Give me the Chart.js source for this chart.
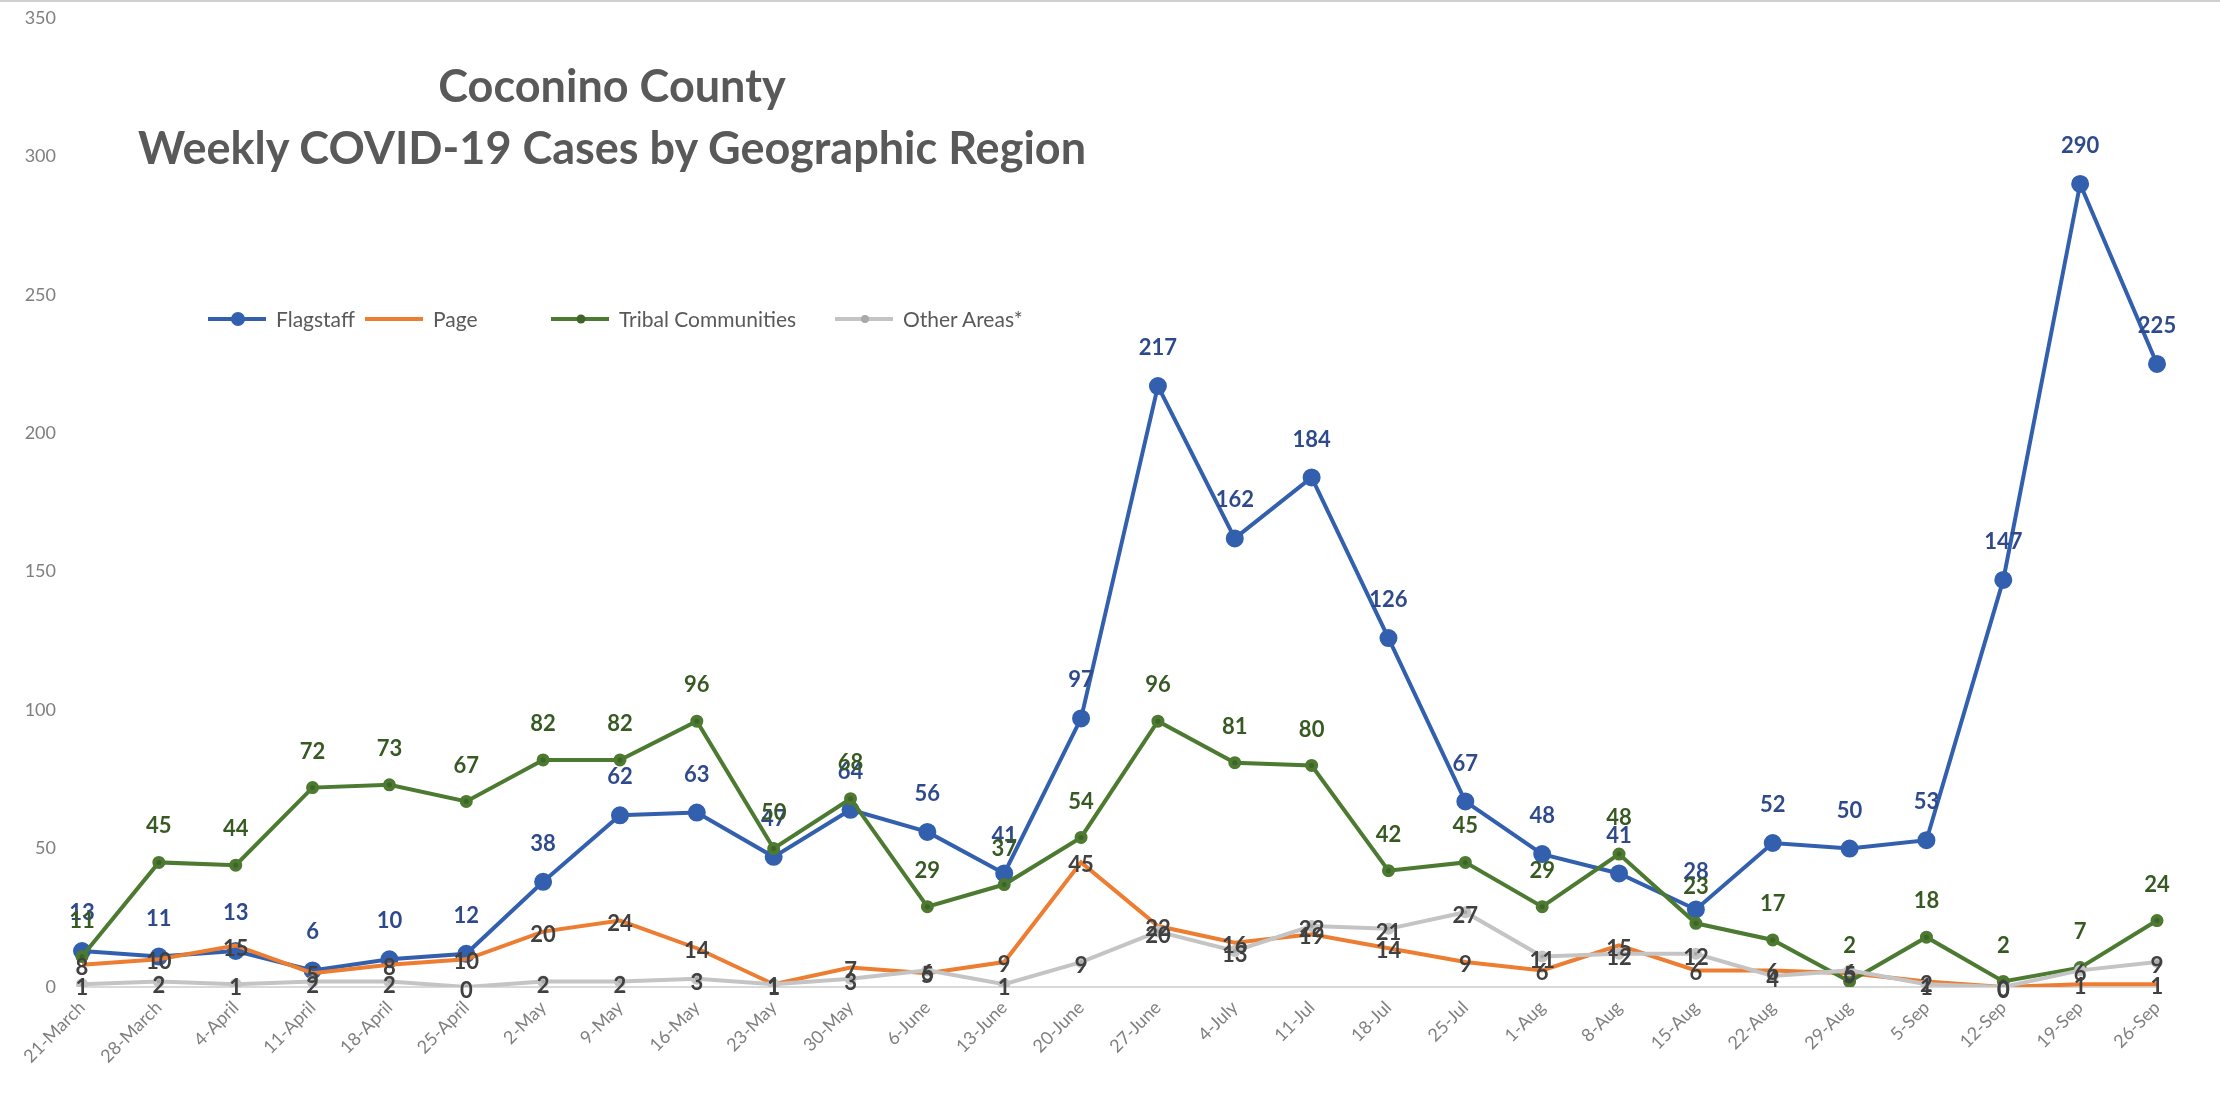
<!DOCTYPE html>
<html>
<head>
<meta charset="utf-8">
<script src="https://cdn.jsdelivr.net/npm/chart.js@4.4.0/dist/chart.umd.min.js"></script>
<style>
  html, body { margin: 0; padding: 0; background: #fff; }
  body { width: 2220px; height: 1101px; position: relative; overflow: hidden; border-top: 2px solid #d0d0d0; box-sizing: border-box; }
  #wrap { position: absolute; left: 0; top: -21px; width: 2220px; height: 1120px; }
  #title { position: absolute; left: 112px; top: 52px; width: 1000px; text-align: center;
    font-family: Lato, "Open Sans", sans-serif; font-weight: bold; font-size: 45px; line-height: 62px; color: #595959; }
  #legend { position: absolute; left: 0; top: 304px; width: 1200px; height: 30px;
    font-family: Lato, "Open Sans", sans-serif; font-size: 21px; color: #595959; }
  .item { position: absolute; top: 0; display: flex; align-items: center; white-space: nowrap; }
  .item svg { margin-right: 10px; }
</style>
</head>
<body>
<div id="wrap"><canvas id="chart"></canvas></div>
<div id="title">Coconino County<br>Weekly COVID-19 Cases by Geographic Region</div>
<div id="legend"></div>
<script>
let weeks = ["21-March", "28-March", "4-April", "11-April", "18-April", "25-April", "2-May", "9-May",
  "16-May", "23-May", "30-May", "6-June", "13-June", "20-June", "27-June", "4-July", "11-Jul", "18-Jul",
  "25-Jul", "1-Aug", "8-Aug", "15-Aug", "22-Aug", "29-Aug", "5-Sep", "12-Sep", "19-Sep", "26-Sep"];
let flagstaff = [13, 11, 13, 6, 10, 12, 38, 62, 63, 47, 64, 56, 41, 97, 217, 162, 184, 126, 67, 48, 41, 28, 52, 50, 53, 147, 290, 225];
let page = [8, 10, 15, 5, 8, 10, 20, 24, 14, 1, 7, 5, 9, 45, 22, 16, 19, 14, 9, 6, 15, 6, 6, 5, 2, 0, 1, 1];
let tribal = [11, 45, 44, 72, 73, 67, 82, 82, 96, 50, 68, 29, 37, 54, 96, 81, 80, 42, 45, 29, 48, 23, 17, 2, 18, 2, 7, 24];
let otherAreas = [1, 2, 1, 2, 2, 0, 2, 2, 3, 1, 3, 6, 1, 9, 20, 13, 22, 21, 27, 11, 12, 12, 4, 6, 1, 0, 6, 9];
let yTicks = [0, 50, 100, 150, 200, 250, 300, 350];

// labels on the points, drawn from each dataset's own point elements
const pointLabels = {
  id: "pointLabels",
  afterDatasetsDraw(chart) {
    let ctx = chart.ctx;
    chart.data.datasets.forEach((ds, i) => {
      let meta = chart.getDatasetMeta(i);
      ctx.save();
      ctx.font = "bold 22px Lato, 'Open Sans', sans-serif";
      ctx.fillStyle = ds.labelColor;
      ctx.textAlign = "center";
      ctx.textBaseline = "middle";
      meta.data.forEach((pt, j) => {
        ctx.fillText(ds.data[j], pt.x, pt.y + ds.labelOffset);
      });
      ctx.restore();
    });
  },
};

let datasets = [
  { label: "Flagstaff", data: flagstaff, borderColor: "#3360ae", backgroundColor: "#3360ae",
    borderWidth: 4, pointRadius: 7, pointHoverRadius: 7, labelColor: "#2f4a8c", labelOffset: -38, order: 4 },
  { label: "Page", data: page, borderColor: "#ed7d31", backgroundColor: "#ed7d31",
    borderWidth: 4, pointRadius: 0, labelColor: "#404040", labelOffset: 3, order: 3 },
  { label: "Tribal Communities", data: tribal, borderColor: "#4c7a30", backgroundColor: "#3f6428",
    borderWidth: 4, pointRadius: 4.5, labelColor: "#375a23", labelOffset: -36, order: 2 },
  { label: "Other Areas*", data: otherAreas, borderColor: "#c4c4c4", backgroundColor: "#a9a9a9",
    borderWidth: 4, pointRadius: 4, labelColor: "#404040", labelOffset: 4, order: 1 },
];

// legend entries, left edges as in the picture
let legendLeft = [208, 365, 551, 835];
let legend = document.getElementById("legend");
datasets.forEach((ds, i) => {
  let item = document.createElement("div");
  item.className = "item";
  item.style.left = legendLeft[i] + "px";
  let dot = ds.pointRadius > 0 ? `<circle cx="30" cy="12" r="${ds.pointRadius}" fill="${ds.backgroundColor}"/>` : "";
  item.innerHTML = `<svg width="58" height="24"><line x1="0" y1="12" x2="58" y2="12" stroke="${ds.borderColor}" stroke-width="4"/>${dot}</svg><span>${ds.label}</span>`;
  legend.appendChild(item);
});

new Chart(document.getElementById("chart"), {
  type: "line",
  data: { labels: weeks, datasets: datasets },
  plugins: [pointLabels],
  options: {
    responsive: true,
    maintainAspectRatio: false,
    animation: false,
    layout: { padding: { left: 0, right: 63, top: 0, bottom: 0 } },
    plugins: { legend: { display: false }, tooltip: { enabled: false } },
    elements: { line: { tension: 0 } },
    scales: {
      x: {
        grid: { display: false, drawTicks: false },
        border: { color: "#d9d9d9", width: 2 },
        ticks: { color: "#7f7f7f", font: { size: 18, family: "Lato, 'Open Sans', sans-serif" },
          minRotation: 45, maxRotation: 45, padding: 10, autoSkip: false },
        afterFit(scale) { scale.height = 114; },
      },
      y: {
        min: 0,
        max: 350,
        grid: { display: false, drawTicks: false },
        border: { display: false },
        afterBuildTicks(scale) { scale.ticks = yTicks.map((v) => ({ value: v })); },
        ticks: { color: "#7f7f7f", font: { size: 18, family: "Lato, 'Open Sans', sans-serif" }, padding: 26 },
        afterFit(scale) { scale.width = 82; },
      },
    },
  },
});
</script>
</body>
</html>
